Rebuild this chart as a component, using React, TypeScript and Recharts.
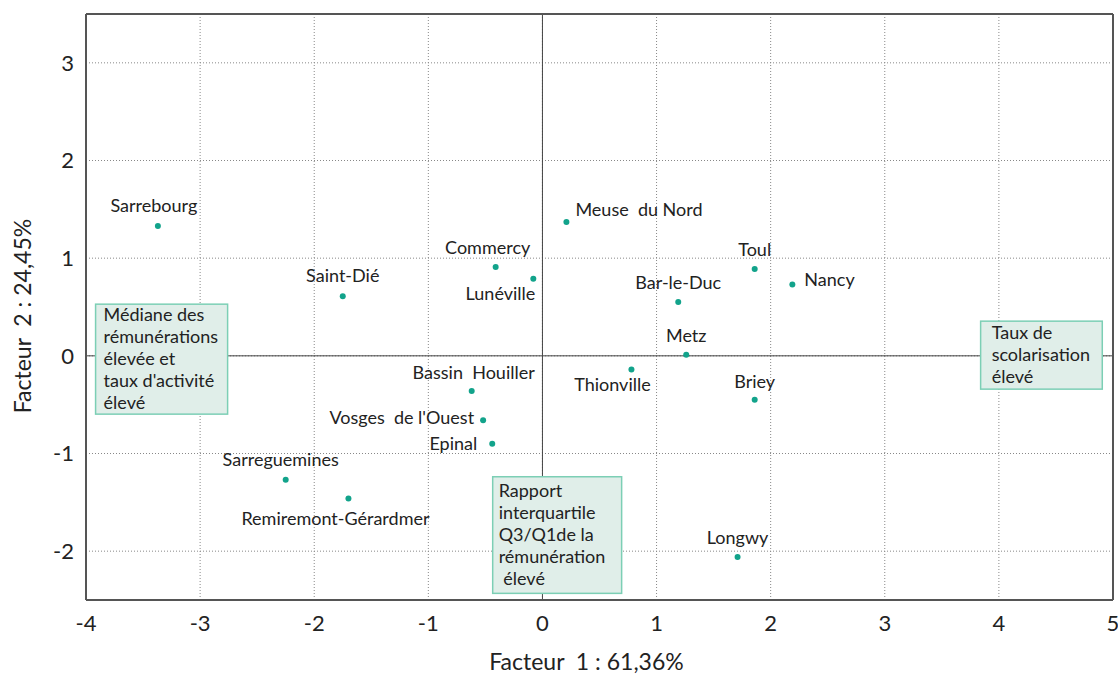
import React from 'react'
import {
  ScatterChart, Scatter, XAxis, YAxis, CartesianGrid, ReferenceLine, ReferenceArea, Label,
} from 'recharts'

// zones d'emploi, coordonnées sur les deux premiers facteurs
const zones = [
  'Sarrebourg', 'Saint-Dié', 'Commercy', 'Lunéville', 'Meuse  du Nord', 'Toul', 'Nancy',
  'Bar-le-Duc', 'Metz', 'Thionville', 'Briey', 'Bassin  Houiller', 'Vosges  de l\'Ouest',
  'Epinal', 'Sarreguemines', 'Remiremont-Gérardmer', 'Longwy',
]
const facteur1 = [-3.37, -1.75, -0.41, -0.08, 0.21, 1.86, 2.19, 1.19, 1.26, 0.78, 1.86, -0.62, -0.52, -0.44, -2.25, -1.70, 1.71]
const facteur2 = [1.33, 0.61, 0.91, 0.79, 1.37, 0.89, 0.73, 0.55, 0.01, -0.14, -0.45, -0.36, -0.66, -0.90, -1.27, -1.46, -2.06]

const xTicks = [-4, -3, -2, -1, 0, 1, 2, 3, 4, 5]
const yTicks = [-2, -1, 0, 1, 2, 3]

// encadrés explicatifs
const boxTexts = [
  ['Médiane des', 'rémunérations', 'élevée et', "taux d'activité", 'élevé'],
  ['Taux de', 'scolarisation', 'élevé'],
  ['Rapport', 'interquartile', 'Q3/Q1de la', 'rémunération', ' élevé'],
]
const boxX = [[-3.916, -2.759], [3.84, 4.906], [-0.436, 0.694]]
const boxY = [[0.529, -0.597], [0.355, -0.341], [-1.238, -2.432]]

const data = zones.map((name, i) => ({ name, x: facteur1[i], y: facteur2[i] }))

// graduations secondaires
const xMinor: number[] = []
for (let i = 0; i <= 36; i++) xMinor.push(-4 + i * 0.25)
const yMinor: number[] = []
for (let i = 0; i <= 29; i++) yMinor.push(Math.round((-2.4 + i * 0.2) * 10) / 10)

const FONT = 'Lato, "Open Sans", sans-serif'
const TEXT = '#222'
const FRAME = '#555'

// placement des étiquettes (décalage en px, ancrage)
const labelPos: Record<string, [number, number, 'start' | 'middle' | 'end']> = {
  'Sarrebourg': [-4, -14, 'middle'],
  'Saint-Dié': [0, -14, 'middle'],
  'Commercy': [-8, -13, 'middle'],
  'Lunéville': [2, 21, 'end'],
  'Meuse  du Nord': [9, -6, 'start'],
  'Toul': [0, -13, 'middle'],
  'Nancy': [12, 1, 'start'],
  'Bar-le-Duc': [0, -13, 'middle'],
  'Metz': [0, -13, 'middle'],
  'Thionville': [-19, 21, 'middle'],
  'Briey': [0, -12, 'middle'],
  'Bassin  Houiller': [2, -12, 'middle'],
  "Vosges  de l'Ouest": [-9, 4, 'end'],
  'Epinal': [-15, 6, 'end'],
  'Sarreguemines': [-5, -14, 'middle'],
  'Remiremont-Gérardmer': [-13, 27, 'middle'],
  'Longwy': [0, -13, 'middle'],
}

const PointShape = (props: any) => {
  const { cx, cy, payload } = props
  const [dx, dy, anchor] = labelPos[payload.name] || [0, -12, 'middle']
  return (
    <g>
      <circle cx={cx} cy={cy} r={3} fill="#12a38b" />
      <text x={cx + dx} y={cy + dy} textAnchor={anchor} fontSize={18} fill={TEXT}
        fontFamily={FONT} style={{ whiteSpace: 'pre' }}>
        {payload.name}
      </text>
    </g>
  )
}

const boxPad = [[8, 17], [11, 18], [6, 20]]

function makeBox(lines: string[], padX: number, padTop: number) {
  return (props: any) => {
    const { x, y, width, height } = props
    return (
      <g>
        <rect x={x} y={y} width={width} height={height} fill="#e0eee9" stroke="#7ccfb5" strokeWidth={1.5} />
        <text x={x + padX} y={y + padTop} fontSize={18} fill={TEXT} fontFamily={FONT} style={{ whiteSpace: 'pre' }}>
          {lines.map((l, i) => (
            <tspan key={i} x={x + padX} dy={i === 0 ? 0 : 22}>{l}</tspan>
          ))}
        </text>
      </g>
    )
  }
}

export default function App() {
  return (
    <div style={{ position: 'absolute', left: 0, top: 0, width: 1118, height: 674, background: '#fff' }}>
      <ScatterChart width={1118} height={674} margin={{ top: 14, right: 5, bottom: 0, left: 0 }}
        style={{ fontFamily: FONT }}>
        <CartesianGrid stroke="#888" strokeDasharray="1 2" />
        <XAxis type="number" dataKey="x" domain={[-4, 5]} ticks={xTicks} interval={0} height={74}
          allowDataOverflow tickLine={false} tickSize={0} tickMargin={15}
          axisLine={{ stroke: FRAME, strokeWidth: 2 }}
          tick={{ fontSize: 22, fill: TEXT, fontFamily: FONT }}>
          <Label content={(p: any) => {
            const vb = p.viewBox
            return (
              <text x={vb.x + vb.width / 2 - 13} y={vb.y + vb.height - 4} textAnchor="middle"
                fontSize={23} fill={TEXT} fontFamily={FONT} style={{ whiteSpace: 'pre' }}>
                Facteur  1 : 61,36%
              </text>
            )
          }} />
        </XAxis>
        <YAxis type="number" dataKey="y" domain={[-2.5, 3.5]} ticks={yTicks} interval={0} width={86}
          allowDataOverflow tickLine={false} tickSize={0} tickMargin={12}
          axisLine={{ stroke: FRAME, strokeWidth: 2 }}
          tick={{ fontSize: 22, fill: TEXT, fontFamily: FONT }}>
          <Label content={(p: any) => {
            const vb = p.viewBox
            const cx = vb.x + 22
            const cy = vb.y + vb.height / 2 + 9
            return (
              <text x={cx} y={cy} transform={`rotate(-90 ${cx} ${cy})`} textAnchor="middle"
                dominantBaseline="central" fontSize={23} fill={TEXT} fontFamily={FONT}
                style={{ whiteSpace: 'pre' }}>
                Facteur  2 : 24,45%
              </text>
            )
          }} />
        </YAxis>
        <XAxis xAxisId="bm" type="number" dataKey="x" domain={[-4, 5]} ticks={xMinor} interval={0}
          orientation="bottom" mirror tick={false} axisLine={false} tickSize={4} stroke={FRAME} />
        <XAxis xAxisId="tm" type="number" dataKey="x" domain={[-4, 5]} ticks={xMinor} interval={0}
          orientation="top" mirror tick={false} tickSize={4} stroke={FRAME}
          axisLine={{ stroke: FRAME, strokeWidth: 2 }} />
        <YAxis yAxisId="lm" type="number" dataKey="y" domain={[-2.5, 3.5]} ticks={yMinor} interval={0}
          orientation="left" mirror tick={false} axisLine={false} tickSize={4} stroke={FRAME} />
        <YAxis yAxisId="rm" type="number" dataKey="y" domain={[-2.5, 3.5]} ticks={yMinor} interval={0}
          orientation="right" mirror tick={false} tickSize={4} stroke={FRAME}
          axisLine={{ stroke: FRAME, strokeWidth: 2 }} />
        <ReferenceLine x={0} stroke="#444" strokeWidth={1} {...({ zIndex: 50 } as any)} />
        <ReferenceLine y={0} stroke="#444" strokeWidth={1} {...({ zIndex: 50 } as any)} />
        {boxTexts.map((lines, i) => (
          <ReferenceArea key={i} x1={boxX[i][0]} x2={boxX[i][1]} y1={boxY[i][0]} y2={boxY[i][1]}
            ifOverflow="visible" shape={makeBox(lines, boxPad[i][0], boxPad[i][1])}
            {...({ zIndex: 150 } as any)} />
        ))}
        <Scatter data={data} isAnimationActive={false} shape={PointShape} />
      </ScatterChart>
    </div>
  )
}
